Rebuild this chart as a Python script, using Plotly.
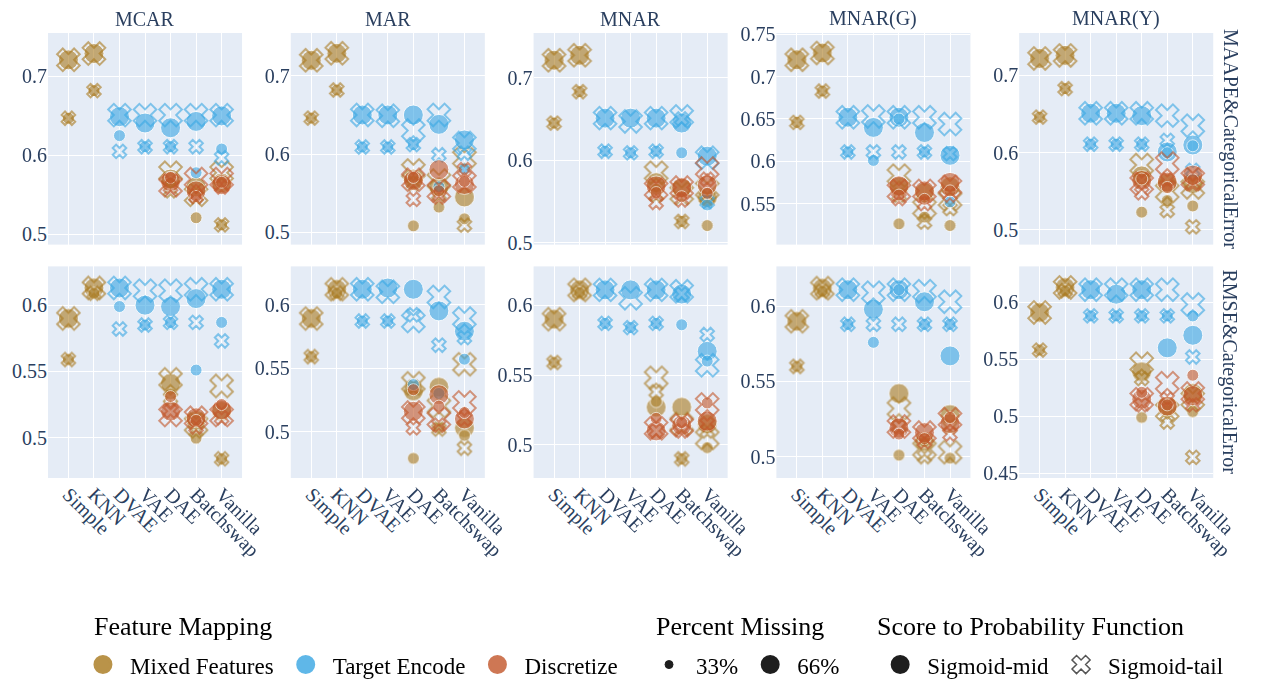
import plotly.graph_objects as go
from plotly.subplots import make_subplots

N = None

METHODS = ["Simple", "KNN", "DVAE", "VAE", "DAE", "Batchswap", "Vanilla"]
MECHANISMS = ["MCAR", "MAR", "MNAR", "MNAR(G)", "MNAR(Y)"]
METRICS = ["MAAPE&CategoricalError", "RMSE&CategoricalError"]
MAPPINGS = ["Mixed Features", "Target Encode", "Discretize"]
PERCENTS = ["33%", "66%"]
FUNCTIONS = ["Sigmoid-mid", "Sigmoid-tail"]

# Scores per method (Simple, KNN, DVAE, VAE, DAE, Batchswap, Vanilla),
# keyed by (percent missing, score-to-probability function).
MAAPE_MCAR = {
    "Mixed Features": {
        ("33%", "Sigmoid-mid"): [0.647, 0.682, N, N, 0.565, 0.521, 0.512],
        ("66%", "Sigmoid-mid"): [0.721, 0.729, N, N, 0.570, 0.560, 0.565],
        ("33%", "Sigmoid-tail"): [0.647, 0.682, N, N, 0.555, 0.548, 0.512],
        ("66%", "Sigmoid-tail"): [0.721, 0.729, N, N, 0.578, 0.550, 0.578],
    },
    "Target Encode": {
        ("33%", "Sigmoid-mid"): [N, N, 0.625, 0.611, 0.611, 0.578, 0.608],
        ("66%", "Sigmoid-mid"): [N, N, 0.649, 0.641, 0.635, 0.643, 0.650],
        ("33%", "Sigmoid-tail"): [N, N, 0.605, 0.611, 0.611, 0.611, 0.597],
        ("66%", "Sigmoid-tail"): [N, N, 0.651, 0.651, 0.651, 0.651, 0.651],
    },
    "Discretize": {
        ("33%", "Sigmoid-mid"): [N, N, N, N, 0.572, 0.548, 0.566],
        ("66%", "Sigmoid-mid"): [N, N, N, N, 0.567, 0.555, 0.563],
        ("33%", "Sigmoid-tail"): [N, N, N, N, 0.560, 0.548, 0.560],
        ("66%", "Sigmoid-tail"): [N, N, N, N, 0.562, 0.570, 0.570],
    },
}

MAAPE_MAR = {
    "Mixed Features": {
        ("33%", "Sigmoid-mid"): [0.646, 0.682, N, N, 0.508, 0.532, 0.517],
        ("66%", "Sigmoid-mid"): [0.720, 0.729, N, N, 0.568, 0.558, 0.545],
        ("33%", "Sigmoid-tail"): [0.646, 0.682, N, N, 0.562, 0.548, 0.509],
        ("66%", "Sigmoid-tail"): [0.720, 0.729, N, N, 0.579, 0.566, 0.595],
    },
    "Target Encode": {
        ("33%", "Sigmoid-mid"): [N, N, 0.609, 0.609, 0.612, 0.558, 0.581],
        ("66%", "Sigmoid-mid"): [N, N, 0.650, 0.650, 0.650, 0.638, 0.618],
        ("33%", "Sigmoid-tail"): [N, N, 0.609, 0.609, 0.612, 0.599, 0.601],
        ("66%", "Sigmoid-tail"): [N, N, 0.650, 0.649, 0.630, 0.650, 0.614],
    },
    "Discretize": {
        ("33%", "Sigmoid-mid"): [N, N, N, N, 0.570, 0.553, 0.565],
        ("66%", "Sigmoid-mid"): [N, N, N, N, 0.566, 0.580, 0.561],
        ("33%", "Sigmoid-tail"): [N, N, N, N, 0.542, 0.545, 0.580],
        ("66%", "Sigmoid-tail"): [N, N, N, N, 0.567, 0.553, 0.565],
    },
}

MAAPE_MNAR = {
    "Mixed Features": {
        ("33%", "Sigmoid-mid"): [0.645, 0.683, N, N, 0.565, 0.526, 0.521],
        ("66%", "Sigmoid-mid"): [0.721, 0.727, N, N, 0.573, 0.566, 0.555],
        ("33%", "Sigmoid-tail"): [0.645, 0.683, N, N, 0.558, 0.526, 0.555],
        ("66%", "Sigmoid-tail"): [0.721, 0.727, N, N, 0.585, 0.560, 0.565],
    },
    "Target Encode": {
        ("33%", "Sigmoid-mid"): [N, N, 0.611, 0.609, 0.611, 0.609, 0.546],
        ("66%", "Sigmoid-mid"): [N, N, 0.651, 0.651, 0.651, 0.645, 0.605],
        ("33%", "Sigmoid-tail"): [N, N, 0.611, 0.609, 0.611, 0.650, 0.550],
        ("66%", "Sigmoid-tail"): [N, N, 0.651, 0.647, 0.651, 0.653, 0.603],
    },
    "Discretize": {
        ("33%", "Sigmoid-mid"): [N, N, N, N, 0.561, 0.556, 0.560],
        ("66%", "Sigmoid-mid"): [N, N, N, N, 0.569, 0.567, 0.570],
        ("33%", "Sigmoid-tail"): [N, N, N, N, 0.549, 0.552, 0.577],
        ("66%", "Sigmoid-tail"): [N, N, N, N, 0.565, 0.567, 0.590],
    },
}

MAAPE_MNAR_G = {
    "Mixed Features": {
        ("33%", "Sigmoid-mid"): [0.646, 0.683, N, N, 0.526, 0.534, 0.524],
        ("66%", "Sigmoid-mid"): [0.720, 0.728, N, N, 0.570, 0.563, 0.570],
        ("33%", "Sigmoid-tail"): [0.646, 0.683, N, N, 0.560, 0.528, 0.544],
        ("66%", "Sigmoid-tail"): [0.720, 0.728, N, N, 0.583, 0.545, 0.555],
    },
    "Target Encode": {
        ("33%", "Sigmoid-mid"): [N, N, 0.611, 0.601, 0.650, 0.611, 0.552],
        ("66%", "Sigmoid-mid"): [N, N, 0.652, 0.640, 0.652, 0.634, 0.607],
        ("33%", "Sigmoid-tail"): [N, N, 0.611, 0.611, 0.611, 0.611, 0.609],
        ("66%", "Sigmoid-tail"): [N, N, 0.652, 0.653, 0.652, 0.652, 0.644],
    },
    "Discretize": {
        ("33%", "Sigmoid-mid"): [N, N, N, N, 0.560, 0.555, 0.565],
        ("66%", "Sigmoid-mid"): [N, N, N, N, 0.571, 0.565, 0.575],
        ("33%", "Sigmoid-tail"): [N, N, N, N, 0.556, 0.550, 0.560],
        ("66%", "Sigmoid-tail"): [N, N, N, N, 0.565, 0.565, 0.570],
    },
}

MAAPE_MNAR_Y = {
    "Mixed Features": {
        ("33%", "Sigmoid-mid"): [0.646, 0.683, N, N, 0.523, 0.538, 0.531],
        ("66%", "Sigmoid-mid"): [0.722, 0.726, N, N, 0.570, 0.560, 0.560],
        ("33%", "Sigmoid-tail"): [0.646, 0.683, N, N, 0.565, 0.525, 0.504],
        ("66%", "Sigmoid-tail"): [0.722, 0.726, N, N, 0.584, 0.550, 0.555],
    },
    "Target Encode": {
        ("33%", "Sigmoid-mid"): [N, N, 0.611, 0.611, 0.611, 0.600, 0.609],
        ("66%", "Sigmoid-mid"): [N, N, 0.651, 0.651, 0.648, 0.601, 0.610],
        ("33%", "Sigmoid-tail"): [N, N, 0.611, 0.611, 0.611, 0.616, 0.577],
        ("66%", "Sigmoid-tail"): [N, N, 0.651, 0.651, 0.651, 0.648, 0.635],
    },
    "Discretize": {
        ("33%", "Sigmoid-mid"): [N, N, N, N, 0.566, 0.555, 0.565],
        ("66%", "Sigmoid-mid"): [N, N, N, N, 0.564, 0.562, 0.571],
        ("33%", "Sigmoid-tail"): [N, N, N, N, 0.548, 0.565, 0.560],
        ("66%", "Sigmoid-tail"): [N, N, N, N, 0.560, 0.586, 0.566],
    },
}

RMSE_MCAR = {
    "Mixed Features": {
        ("33%", "Sigmoid-mid"): [0.559, 0.609, N, N, 0.533, 0.4995, 0.484],
        ("66%", "Sigmoid-mid"): [0.590, 0.613, N, N, 0.541, 0.513, 0.520],
        ("33%", "Sigmoid-tail"): [0.559, 0.609, N, N, 0.530, 0.505, 0.484],
        ("66%", "Sigmoid-tail"): [0.590, 0.613, N, N, 0.544, 0.510, 0.539],
    },
    "Target Encode": {
        ("33%", "Sigmoid-mid"): [N, N, 0.599, 0.585, 0.587, 0.551, 0.587],
        ("66%", "Sigmoid-mid"): [N, N, 0.613, 0.600, 0.599, 0.605, 0.612],
        ("33%", "Sigmoid-tail"): [N, N, 0.582, 0.585, 0.587, 0.587, 0.573],
        ("66%", "Sigmoid-tail"): [N, N, 0.613, 0.611, 0.611, 0.612, 0.612],
    },
    "Discretize": {
        ("33%", "Sigmoid-mid"): [N, N, N, N, 0.531, 0.513, 0.525],
        ("66%", "Sigmoid-mid"): [N, N, N, N, 0.520, 0.515, 0.521],
        ("33%", "Sigmoid-tail"): [N, N, N, N, 0.520, 0.508, 0.515],
        ("66%", "Sigmoid-tail"): [N, N, N, N, 0.517, 0.515, 0.517],
    },
}

RMSE_MAR = {
    "Mixed Features": {
        ("33%", "Sigmoid-mid"): [0.559, 0.609, N, N, 0.479, 0.503, 0.497],
        ("66%", "Sigmoid-mid"): [0.589, 0.612, N, N, 0.532, 0.535, 0.503],
        ("33%", "Sigmoid-tail"): [0.559, 0.609, N, N, 0.535, 0.502, 0.487],
        ("66%", "Sigmoid-tail"): [0.589, 0.612, N, N, 0.538, 0.520, 0.553],
    },
    "Target Encode": {
        ("33%", "Sigmoid-mid"): [N, N, 0.587, 0.587, 0.537, 0.530, 0.557],
        ("66%", "Sigmoid-mid"): [N, N, 0.612, 0.613, 0.612, 0.595, 0.579],
        ("33%", "Sigmoid-tail"): [N, N, 0.587, 0.587, 0.592, 0.568, 0.574],
        ("66%", "Sigmoid-tail"): [N, N, 0.612, 0.610, 0.587, 0.606, 0.589],
    },
    "Discretize": {
        ("33%", "Sigmoid-mid"): [N, N, N, N, 0.533, 0.520, 0.515],
        ("66%", "Sigmoid-mid"): [N, N, N, N, 0.516, 0.529, 0.510],
        ("33%", "Sigmoid-tail"): [N, N, N, N, 0.503, 0.505, 0.510],
        ("66%", "Sigmoid-tail"): [N, N, N, N, 0.515, 0.510, 0.523],
    },
}

RMSE_MNAR = {
    "Mixed Features": {
        ("33%", "Sigmoid-mid"): [0.559, 0.609, N, N, 0.531, 0.490, 0.498],
        ("66%", "Sigmoid-mid"): [0.590, 0.611, N, N, 0.527, 0.527, 0.515],
        ("33%", "Sigmoid-tail"): [0.559, 0.609, N, N, 0.538, 0.490, 0.510],
        ("66%", "Sigmoid-tail"): [0.590, 0.611, N, N, 0.548, 0.515, 0.505],
    },
    "Target Encode": {
        ("33%", "Sigmoid-mid"): [N, N, 0.587, 0.584, 0.587, 0.586, 0.560],
        ("66%", "Sigmoid-mid"): [N, N, 0.611, 0.611, 0.611, 0.608, 0.567],
        ("33%", "Sigmoid-tail"): [N, N, 0.587, 0.584, 0.587, 0.608, 0.579],
        ("66%", "Sigmoid-tail"): [N, N, 0.611, 0.605, 0.611, 0.610, 0.557],
    },
    "Discretize": {
        ("33%", "Sigmoid-mid"): [N, N, N, N, 0.519, 0.516, 0.530],
        ("66%", "Sigmoid-mid"): [N, N, N, N, 0.510, 0.514, 0.517],
        ("33%", "Sigmoid-tail"): [N, N, N, N, 0.510, 0.510, 0.515],
        ("66%", "Sigmoid-tail"): [N, N, N, N, 0.512, 0.514, 0.529],
    },
}

RMSE_MNAR_G = {
    "Mixed Features": {
        ("33%", "Sigmoid-mid"): [0.560, 0.610, N, N, 0.501, 0.510, 0.499],
        ("66%", "Sigmoid-mid"): [0.590, 0.612, N, N, 0.542, 0.510, 0.528],
        ("33%", "Sigmoid-tail"): [0.560, 0.610, N, N, 0.520, 0.500, 0.520],
        ("66%", "Sigmoid-tail"): [0.590, 0.612, N, N, 0.532, 0.505, 0.503],
    },
    "Target Encode": {
        ("33%", "Sigmoid-mid"): [N, N, 0.588, 0.576, 0.611, 0.588, 0.588],
        ("66%", "Sigmoid-mid"): [N, N, 0.611, 0.598, 0.611, 0.603, 0.567],
        ("33%", "Sigmoid-tail"): [N, N, 0.588, 0.588, 0.588, 0.588, 0.588],
        ("66%", "Sigmoid-tail"): [N, N, 0.611, 0.609, 0.611, 0.610, 0.603],
    },
    "Discretize": {
        ("33%", "Sigmoid-mid"): [N, N, N, N, 0.515, 0.512, 0.526],
        ("66%", "Sigmoid-mid"): [N, N, N, N, 0.519, 0.516, 0.522],
        ("33%", "Sigmoid-tail"): [N, N, N, N, 0.520, 0.510, 0.515],
        ("66%", "Sigmoid-tail"): [N, N, N, N, 0.520, 0.516, 0.525],
    },
}

RMSE_MNAR_Y = {
    "Mixed Features": {
        ("33%", "Sigmoid-mid"): [0.558, 0.610, N, N, 0.499, 0.505, 0.504],
        ("66%", "Sigmoid-mid"): [0.591, 0.613, N, N, 0.539, 0.508, 0.520],
        ("33%", "Sigmoid-tail"): [0.558, 0.610, N, N, 0.533, 0.495, 0.464],
        ("66%", "Sigmoid-tail"): [0.591, 0.613, N, N, 0.546, 0.505, 0.515],
    },
    "Target Encode": {
        ("33%", "Sigmoid-mid"): [N, N, 0.588, 0.588, 0.588, 0.588, 0.588],
        ("66%", "Sigmoid-mid"): [N, N, 0.611, 0.607, 0.611, 0.560, 0.571],
        ("33%", "Sigmoid-tail"): [N, N, 0.588, 0.588, 0.588, 0.588, 0.552],
        ("66%", "Sigmoid-tail"): [N, N, 0.611, 0.611, 0.611, 0.611, 0.598],
    },
    "Discretize": {
        ("33%", "Sigmoid-mid"): [N, N, N, N, 0.521, 0.510, 0.536],
        ("66%", "Sigmoid-mid"): [N, N, N, N, 0.515, 0.509, 0.518],
        ("33%", "Sigmoid-tail"): [N, N, N, N, 0.510, 0.515, 0.510],
        ("66%", "Sigmoid-tail"): [N, N, N, N, 0.515, 0.529, 0.520],
    },
}

PANELS = [
    [MAAPE_MCAR, MAAPE_MAR, MAAPE_MNAR, MAAPE_MNAR_G, MAAPE_MNAR_Y],
    [RMSE_MCAR, RMSE_MAR, RMSE_MNAR, RMSE_MNAR_G, RMSE_MNAR_Y],
]

# Axis windows and tick steps for each panel
Y_RANGES = [
    [[0.487, 0.755], [0.484, 0.755], [0.498, 0.754], [0.5015, 0.7516], [0.481, 0.755]],
    [[0.4695, 0.6293], [0.4635, 0.630], [0.4763, 0.6278], [0.4858, 0.6265], [0.4459, 0.6314]],
]
Y_DTICKS = [[0.1, 0.1, 0.1, 0.05, 0.1], [0.05, 0.05, 0.05, 0.05, 0.05]]

COLORS = {"Mixed Features": "#A8781C", "Target Encode": "#38A6E3", "Discretize": "#C2562A"}
SYMBOLS = {"Sigmoid-mid": "circle", "Sigmoid-tail": "x-open"}
SIZES = {"33%": 12, "66%": 20}
SERIF = "Liberation Serif"
AXIS_BLUE = "#2a3f5f"

fig = make_subplots(
    rows=2, cols=5,
    column_titles=MECHANISMS, row_titles=METRICS,
    horizontal_spacing=0.041, vertical_spacing=0.049,
)

for r, panel_row in enumerate(PANELS, start=1):
    for c, panel in enumerate(panel_row, start=1):
        for mapping in MAPPINGS:
            for func in FUNCTIONS:
                xs, ys, sizes = [], [], []
                for pct in ["66%", "33%"]:
                    for method, val in zip(METHODS, panel[mapping][(pct, func)]):
                        if val is None:
                            continue
                        xs.append(method)
                        ys.append(val)
                        sizes.append(SIZES[pct])
                fig.add_trace(
                    go.Scatter(
                        x=xs, y=ys, mode="markers",
                        marker=dict(
                            symbol=SYMBOLS[func], size=sizes, color=COLORS[mapping],
                            line=dict(color="white", width=1 if func == "Sigmoid-mid" else 2),
                        ),
                        opacity=0.85,
                        name=f"{mapping}, {func}",
                        showlegend=False,
                        hoverinfo="x+y+name",
                    ),
                    row=r, col=c,
                )
        fig.update_yaxes(
            range=Y_RANGES[r - 1][c - 1], dtick=Y_DTICKS[r - 1][c - 1], tick0=0,
            row=r, col=c,
        )

# Legend entries (three grouped legends)
for mapping in MAPPINGS:
    fig.add_trace(go.Scatter(
        x=[None], y=[None], mode="markers", name=mapping, legend="legend",
        marker=dict(symbol="circle", size=16, color=COLORS[mapping],
                    line=dict(color=COLORS[mapping], width=3)),
        opacity=0.8,
    ), row=1, col=1)
for pct, sz, lw in [("33%", 8, 1), ("66%", 16, 3)]:
    fig.add_trace(go.Scatter(
        x=[None], y=[None], mode="markers", name=pct, legend="legend2",
        marker=dict(symbol="circle", size=sz, color="#1e1e1e", line=dict(color="#1e1e1e", width=lw)),
    ), row=1, col=1)
fig.add_trace(go.Scatter(
    x=[None], y=[None], mode="markers", name="Sigmoid-mid", legend="legend3",
    marker=dict(symbol="circle", size=16, color="#1e1e1e", line=dict(color="#1e1e1e", width=3)),
), row=1, col=1)
fig.add_trace(go.Scatter(
    x=[None], y=[None], mode="markers", name="Sigmoid-tail", legend="legend3",
    marker=dict(symbol="x-open", size=16, color="#555555", line=dict(width=1.5)),
), row=1, col=1)

fig.update_xaxes(
    type="category", categoryorder="array", categoryarray=METHODS,
    tickmode="array", tickvals=METHODS, ticktext=METHODS,
    range=[-0.8, 6.8], tickangle=45,
    tickfont=dict(family=SERIF, size=20, color=AXIS_BLUE),
)
fig.update_xaxes(showticklabels=False, row=1)
fig.update_yaxes(tickfont=dict(family=SERIF, size=20, color=AXIS_BLUE))

for ann in fig.layout.annotations:
    ann.font = dict(family=SERIF, size=20, color=AXIS_BLUE)
    if ann.textangle == 90:
        ann.xshift = 3
    else:
        ann.yshift = 1

# Group headings above each legend row
title_font = dict(family=SERIF, size=26, color="black")
for text, x in [("Feature Mapping", 0.037),
                ("Percent Missing", 0.5097),
                ("Score to Probability Function", 0.6956)]:
    fig.add_annotation(
        text=text, x=x, y=-0.3348, xref="paper", yref="paper",
        xanchor="left", yanchor="middle", showarrow=False, font=title_font,
    )

legend_common = dict(
    orientation="h", yanchor="top", y=-0.371, xanchor="left",
    font=dict(family=SERIF, size=23, color="black"),
    itemsizing="trace", itemwidth=44, bgcolor="rgba(0,0,0,0)",
)
fig.update_layout(
    template="plotly",
    width=1270, height=682,
    margin=dict(l=48, r=33, t=33, b=204, autoexpand=False),
    paper_bgcolor="white",
    legend=dict(**legend_common, x=0.0235),
    legend2=dict(**legend_common, x=0.4996),
    legend3=dict(**legend_common, x=0.694),
)

fig.write_html("out.html")
